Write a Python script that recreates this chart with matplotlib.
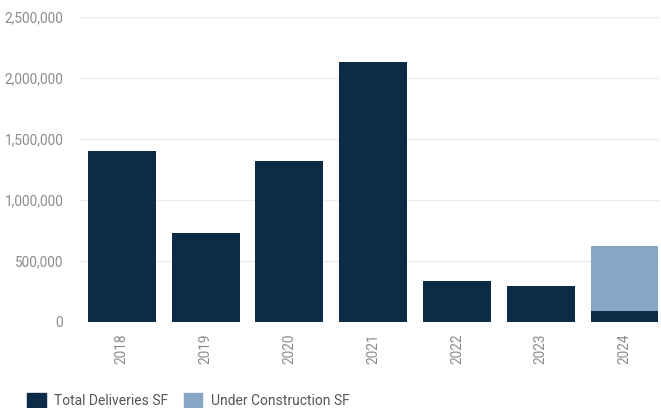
import matplotlib
matplotlib.use("Agg")
import matplotlib.pyplot as plt
from matplotlib.ticker import FuncFormatter
from matplotlib.patches import Patch

plt.rcParams['font.family'] = ['Roboto', 'DejaVu Sans']

years = ["2018", "2019", "2020", "2021", "2022", "2023", "2024"]
deliveries = [1400000, 725000, 1320000, 2130000, 338000, 296000, 90000]
under_construction = [0, 0, 0, 0, 0, 0, 535000]

dark = "#0b2b47"
light = "#87a6c3"
grey = "#8c8c8c"

fig = plt.figure(figsize=(6.61, 4.08), dpi=100)
ax = fig.add_axes([0.121, 0.211, 0.877, 0.748])

x = range(len(years))
ax.bar(x, deliveries, width=0.81, color=dark, zorder=3)
ax.bar(x, under_construction, width=0.81, bottom=deliveries, color=light, zorder=3)

ax.set_ylim(0, 2500000)
ax.set_xlim(-0.5, 6.42)
ax.set_yticks([0, 500000, 1000000, 1500000, 2000000, 2500000])
ax.yaxis.set_major_formatter(FuncFormatter(lambda v, p: f"{int(v):,}"))
ax.set_xticks(list(x))
ax.set_xticklabels(years, rotation=90)
ax.grid(axis="y", color="#ebebeb", linewidth=0.9, zorder=0)
for s in ax.spines.values():
    s.set_visible(False)
ax.tick_params(axis="both", length=0, colors=grey, labelsize=9.8)
ax.tick_params(axis="y", pad=12)
ax.tick_params(axis="x", pad=8)

handles = [Patch(color=dark, label="Total Deliveries SF"),
           Patch(color=light, label="Under Construction SF")]
fig.legend(handles=handles, loc="lower left", bbox_to_anchor=(0.022, -0.03),
           ncol=2, frameon=False, fontsize=10, handlelength=1.35, handleheight=1.3,
           columnspacing=1.1, handletextpad=0.6, labelcolor="#555555")

fig.savefig("out.png", dpi=100)
